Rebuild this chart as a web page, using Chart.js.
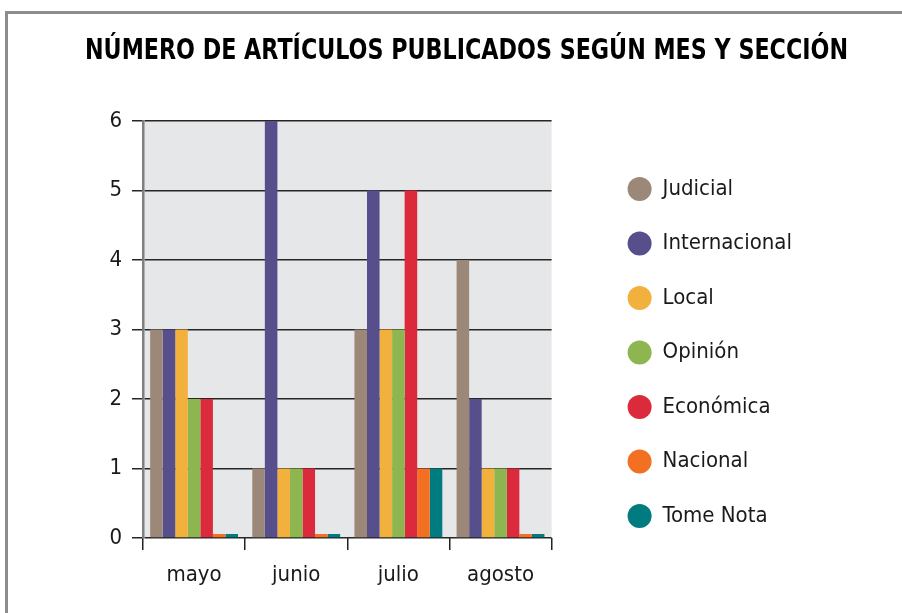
<!DOCTYPE html>
<html>
<head>
<meta charset="utf-8">
<script src="https://cdn.jsdelivr.net/npm/chart.js@4"></script>
<style>
html, body { margin: 0; padding: 0; background: #fff; }
#wrap { position: relative; width: 902px; height: 613px; overflow: hidden; }
#frame { position: absolute; left: 5px; top: 11px; width: 920px; height: 620px;
         border-top: 3px solid #8c8c8c; border-left: 3px solid #8c8c8c; pointer-events: none; }
canvas { position: absolute; left: 0; top: 0; }
</style>
</head>
<body>
<div id="wrap">
  <canvas id="myChart" width="902" height="613"></canvas>
  <div id="frame"></div>
</div>
<script>
// Data
const months = ['mayo', 'junio', 'julio', 'agosto'];
const sections = ['Judicial', 'Internacional', 'Local', 'Opinión', 'Económica', 'Nacional', 'Tome Nota'];
const judicial      = [3, 1, 3, 4];
const internacional = [3, 6, 5, 2];
const local         = [3, 1, 3, 1];
const opinion       = [2, 1, 3, 1];
const economica     = [2, 1, 5, 1];
const nacional      = [0, 0, 1, 0];
const tomeNota      = [0, 0, 1, 0];
const yTicks = [0, 1, 2, 3, 4, 5, 6];

const seriesValues = [judicial, internacional, local, opinion, economica, nacional, tomeNota];
const seriesColors = ['#9c8878', '#574f8c', '#f2b03d', '#8db651', '#da2a3b', '#f37022', '#007b80'];

const fontFamily = "'DejaVu Sans Condensed', 'Liberation Sans Narrow', sans-serif";

// Grey fill behind the bars
const plotBackground = {
    id: 'plotBackground',
    beforeDraw(chart) {
        const { ctx, chartArea: a } = chart;
        ctx.save();
        ctx.fillStyle = '#e6e7e9';
        ctx.fillRect(a.left, a.top, a.right - a.left, a.bottom - a.top);
        ctx.restore();
    }
};

// empty right-hand axes used only as spacers
const spacer = (width, weight) => ({
    type: 'linear',
    position: 'right',
    display: true,
    weight: weight,
    grid: { display: false },
    ticks: { display: false },
    border: { display: false },
    afterFit: s => { s.width = width; }
});

const ctx = document.getElementById('myChart');

new Chart(ctx, {
    type: 'bar',
    data: {
        labels: months,
        datasets: sections.map((name, i) => ({
            label: name,
            data: seriesValues[i],
            backgroundColor: seriesColors[i],
            borderColor: seriesColors[i],
            borderWidth: 0,
            categoryPercentage: 0.86,
            barPercentage: 1,
            minBarLength: 4      // zero values still show a thin stub
        }))
    },
    options: {
        responsive: false,
        animation: false,
        layout: { padding: { left: 85, right: 54, top: 0, bottom: 15 } },
        scales: {
            x: {
                offset: true,
                grid: { drawOnChartArea: false, drawTicks: true, tickLength: 12, color: '#222', lineWidth: 1.5, offset: true },
                border: { display: false },
                ticks: { padding: 12, color: '#1a1a1a', font: { family: fontFamily, size: 22 } },
                afterFit: s => { s.height = 60; }
            },
            y: {
                min: yTicks[0],
                max: yTicks[yTicks.length - 1],
                grid: { color: '#262626', lineWidth: 1.5, tickLength: 11, drawTicks: true },
                border: { display: true, color: '#7f7f7f', width: 2.5 },
                ticks: { stepSize: 1, padding: 10, color: '#1a1a1a', font: { family: fontFamily, size: 22 } },
                afterFit: s => { s.width = 58; }
            },
            gap: spacer(43.5, 0),     // between plot and legend
            pad: spacer(46, 2000)     // outside the legend
        },
        plugins: {
            title: {
                display: true,
                text: 'NÚMERO DE ARTÍCULOS PUBLICADOS SEGÚN MES Y SECCIÓN',
                color: '#000',
                font: { family: "'DejaVu Sans', sans-serif", size: 27.5, weight: 'bold', lineHeight: 1.2 },
                padding: { top: 34.9, bottom: 53.1 }
            },
            legend: {
                position: 'right',
                align: 'start',
                maxWidth: 300,
                // blank title only pushes the list down
                title: { display: true, text: '', font: { size: 12, lineHeight: 1.2 }, padding: { top: 131.1, bottom: 0 } },
                labels: {
                    usePointStyle: true,
                    pointStyle: 'circle',
                    pointStyleWidth: 24,
                    boxHeight: 17,
                    padding: 32.5,
                    color: '#1a1a1a',
                    font: { family: fontFamily, size: 22 }
                }
            },
            tooltip: { enabled: false }
        }
    },
    plugins: [plotBackground]
});
</script>
</body>
</html>
